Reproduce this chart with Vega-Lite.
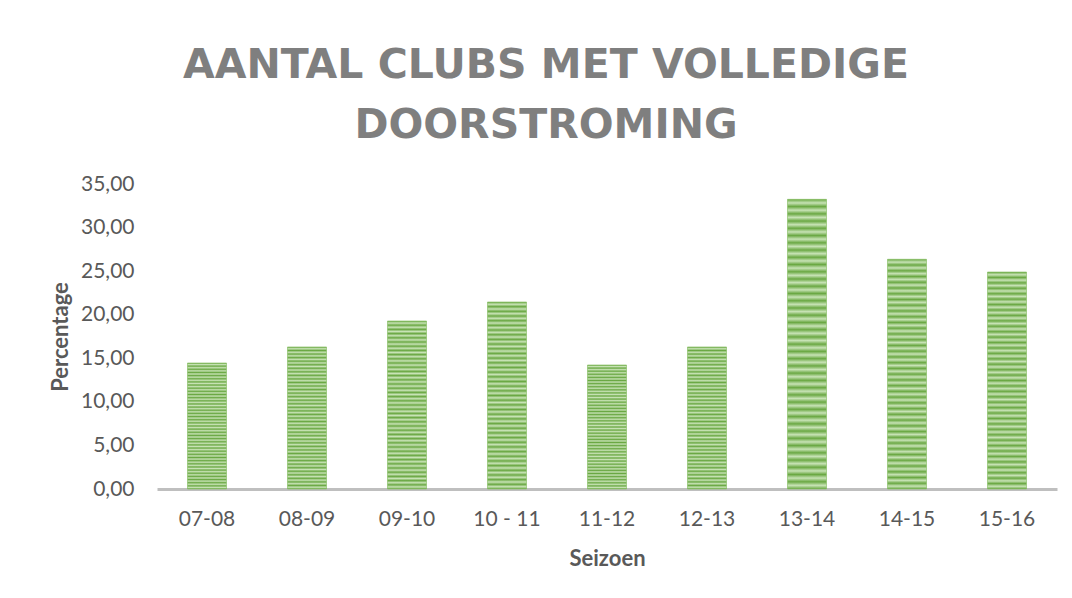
{
  "$schema": "https://vega.github.io/schema/vega-lite/v6.json",
  "width": 900,
  "height": 305,
  "autosize": {"type": "none"},
  "padding": {"left": 157, "top": 184, "right": 15, "bottom": 109},
  "background": "white",
  "title": {
    "text": ["AANTAL CLUBS MET VOLLEDIGE", "DOORSTROMING"],
    "anchor": "middle",
    "frame": "group",
    "dx": -61,
    "font": "DejaVu Sans",
    "fontSize": 41,
    "fontWeight": "bold",
    "color": "#7f7f7f",
    "lineHeight": 60,
    "offset": 26
  },
  "data": {
    "values": [
      {"Seizoen": "07-08", "Percentage": 14.46},
      {"Seizoen": "08-09", "Percentage": 16.3},
      {"Seizoen": "09-10", "Percentage": 19.28},
      {"Seizoen": "10 - 11", "Percentage": 21.46},
      {"Seizoen": "11-12", "Percentage": 14.23},
      {"Seizoen": "12-13", "Percentage": 16.3},
      {"Seizoen": "13-14", "Percentage": 33.24},
      {"Seizoen": "14-15", "Percentage": 26.36},
      {"Seizoen": "15-16", "Percentage": 24.9}
    ]
  },
  "mark": {
    "type": "bar",
    "stroke": "#7fbb5a",
    "strokeWidth": 0.6,
    "fill": {
      "gradient": "linear",
      "x1": 0, "y1": 0, "x2": 0, "y2": 1,
      "stops": [
        {"offset": 0.0, "color": "#6aa843"},
        {"offset": 0.0125, "color": "#c8e3b6"},
        {"offset": 0.025, "color": "#6aa843"},
        {"offset": 0.0375, "color": "#c8e3b6"},
        {"offset": 0.05, "color": "#6aa843"},
        {"offset": 0.0625, "color": "#c8e3b6"},
        {"offset": 0.075, "color": "#6aa843"},
        {"offset": 0.0875, "color": "#c8e3b6"},
        {"offset": 0.1, "color": "#6aa843"},
        {"offset": 0.1125, "color": "#c8e3b6"},
        {"offset": 0.125, "color": "#6aa843"},
        {"offset": 0.1375, "color": "#c8e3b6"},
        {"offset": 0.15, "color": "#6aa843"},
        {"offset": 0.1625, "color": "#c8e3b6"},
        {"offset": 0.175, "color": "#6aa843"},
        {"offset": 0.1875, "color": "#c8e3b6"},
        {"offset": 0.2, "color": "#6aa843"},
        {"offset": 0.2125, "color": "#c8e3b6"},
        {"offset": 0.225, "color": "#6aa843"},
        {"offset": 0.2375, "color": "#c8e3b6"},
        {"offset": 0.25, "color": "#6aa843"},
        {"offset": 0.2625, "color": "#c8e3b6"},
        {"offset": 0.275, "color": "#6aa843"},
        {"offset": 0.2875, "color": "#c8e3b6"},
        {"offset": 0.3, "color": "#6aa843"},
        {"offset": 0.3125, "color": "#c8e3b6"},
        {"offset": 0.325, "color": "#6aa843"},
        {"offset": 0.3375, "color": "#c8e3b6"},
        {"offset": 0.35, "color": "#6aa843"},
        {"offset": 0.3625, "color": "#c8e3b6"},
        {"offset": 0.375, "color": "#6aa843"},
        {"offset": 0.3875, "color": "#c8e3b6"},
        {"offset": 0.4, "color": "#6aa843"},
        {"offset": 0.4125, "color": "#c8e3b6"},
        {"offset": 0.425, "color": "#6aa843"},
        {"offset": 0.4375, "color": "#c8e3b6"},
        {"offset": 0.45, "color": "#6aa843"},
        {"offset": 0.4625, "color": "#c8e3b6"},
        {"offset": 0.475, "color": "#6aa843"},
        {"offset": 0.4875, "color": "#c8e3b6"},
        {"offset": 0.5, "color": "#6aa843"},
        {"offset": 0.5125, "color": "#c8e3b6"},
        {"offset": 0.525, "color": "#6aa843"},
        {"offset": 0.5375, "color": "#c8e3b6"},
        {"offset": 0.55, "color": "#6aa843"},
        {"offset": 0.5625, "color": "#c8e3b6"},
        {"offset": 0.575, "color": "#6aa843"},
        {"offset": 0.5875, "color": "#c8e3b6"},
        {"offset": 0.6, "color": "#6aa843"},
        {"offset": 0.6125, "color": "#c8e3b6"},
        {"offset": 0.625, "color": "#6aa843"},
        {"offset": 0.6375, "color": "#c8e3b6"},
        {"offset": 0.65, "color": "#6aa843"},
        {"offset": 0.6625, "color": "#c8e3b6"},
        {"offset": 0.675, "color": "#6aa843"},
        {"offset": 0.6875, "color": "#c8e3b6"},
        {"offset": 0.7, "color": "#6aa843"},
        {"offset": 0.7125, "color": "#c8e3b6"},
        {"offset": 0.725, "color": "#6aa843"},
        {"offset": 0.7375, "color": "#c8e3b6"},
        {"offset": 0.75, "color": "#6aa843"},
        {"offset": 0.7625, "color": "#c8e3b6"},
        {"offset": 0.775, "color": "#6aa843"},
        {"offset": 0.7875, "color": "#c8e3b6"},
        {"offset": 0.8, "color": "#6aa843"},
        {"offset": 0.8125, "color": "#c8e3b6"},
        {"offset": 0.825, "color": "#6aa843"},
        {"offset": 0.8375, "color": "#c8e3b6"},
        {"offset": 0.85, "color": "#6aa843"},
        {"offset": 0.8625, "color": "#c8e3b6"},
        {"offset": 0.875, "color": "#6aa843"},
        {"offset": 0.8875, "color": "#c8e3b6"},
        {"offset": 0.9, "color": "#6aa843"},
        {"offset": 0.9125, "color": "#c8e3b6"},
        {"offset": 0.925, "color": "#6aa843"},
        {"offset": 0.9375, "color": "#c8e3b6"},
        {"offset": 0.95, "color": "#6aa843"},
        {"offset": 0.9625, "color": "#c8e3b6"},
        {"offset": 0.975, "color": "#6aa843"},
        {"offset": 0.9875, "color": "#c8e3b6"},
        {"offset": 1.0, "color": "#6aa843"}
      ]
    }
  },
  "encoding": {
    "x": {
      "field": "Seizoen",
      "type": "nominal",
      "sort": null,
      "scale": {"paddingInner": 0.61, "paddingOuter": 0.305},
      "axis": {
        "title": "Seizoen",
        "labelAngle": 0,
        "labelFont": "Lato",
        "labelFontSize": 21,
        "labelColor": "#595959",
        "labelPadding": 19,
        "ticks": false,
        "domain": true,
        "domainColor": "#bfbfbf",
        "domainWidth": 3,
        "titleFont": "Lato",
        "titleFontSize": 22,
        "titleFontWeight": "bold",
        "titleColor": "#595959",
        "titlePadding": 19
      }
    },
    "y": {
      "field": "Percentage",
      "type": "quantitative",
      "scale": {"domain": [0, 35], "nice": false},
      "axis": {
        "title": "Percentage",
        "values": [0, 5, 10, 15, 20, 25, 30, 35],
        "labelExpr": "replace(format(datum.value, '.2f'), '.', ',')",
        "labelFont": "Lato",
        "labelFontSize": 21,
        "labelColor": "#595959",
        "labelPadding": 23,
        "ticks": false,
        "domain": false,
        "grid": false,
        "titleFont": "Lato",
        "titleFontSize": 22,
        "titleFontWeight": "bold",
        "titleColor": "#595959",
        "titlePadding": 8
      }
    }
  },
  "config": {
    "view": {"stroke": null}
  }
}
